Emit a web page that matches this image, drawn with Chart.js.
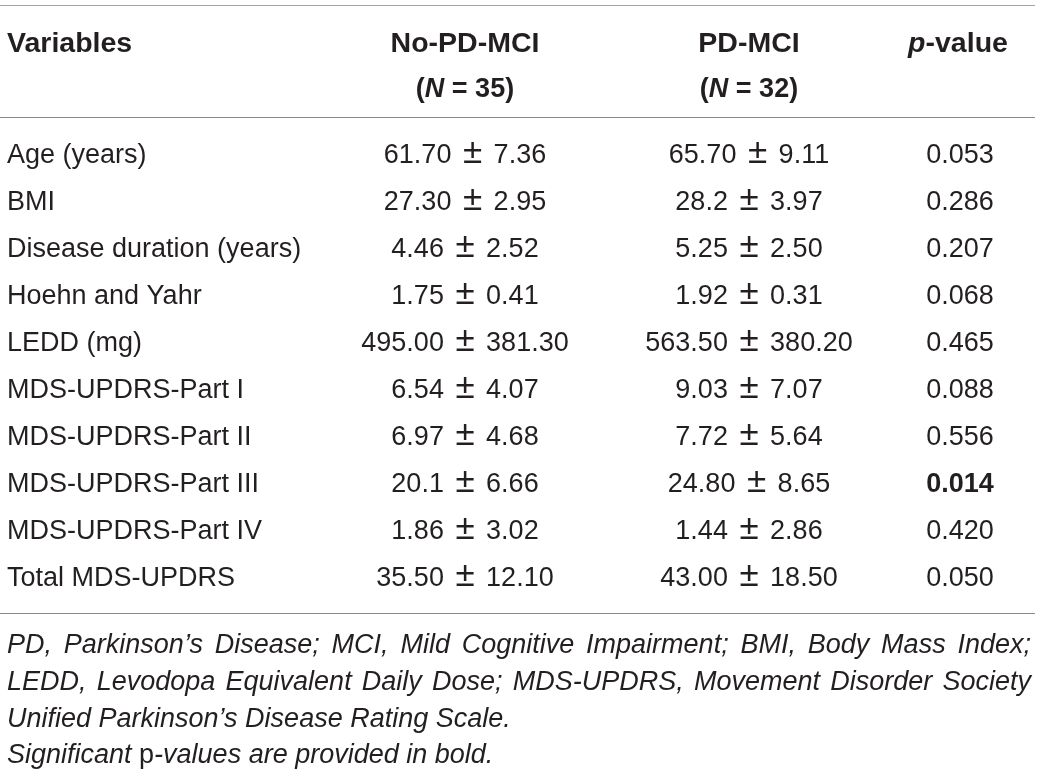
<!DOCTYPE html>
<html>
<head>
<meta charset="utf-8">
<script src="https://cdn.jsdelivr.net/npm/chart.js@4.4.1/dist/chart.umd.min.js"></script>
<style>
    html, body { margin: 0; padding: 0; background: #fff; }
    #wrap { width: 1041px; height: 774px; }
</style>
</head>
<body>
<div id="wrap"><canvas id="table" width="1041" height="774"></canvas></div>
<script>
// table values
const VARIABLES = [
    "Age (years)",
    "BMI",
    "Disease duration (years)",
    "Hoehn and Yahr",
    "LEDD (mg)",
    "MDS-UPDRS-Part I",
    "MDS-UPDRS-Part II",
    "MDS-UPDRS-Part III",
    "MDS-UPDRS-Part IV",
    "Total MDS-UPDRS"
]
const GROUPS = ["No-PD-MCI", "PD-MCI"]
const GROUP_N = [35, 32]
const NO_PD_MCI_MEAN = ["61.70", "27.30", "4.46", "1.75", "495.00", "6.54", "6.97", "20.1", "1.86", "35.50"]
const NO_PD_MCI_SD = ["7.36", "2.95", "2.52", "0.41", "381.30", "4.07", "4.68", "6.66", "3.02", "12.10"]
const PD_MCI_MEAN = ["65.70", "28.2", "5.25", "1.92", "563.50", "9.03", "7.72", "24.80", "1.44", "43.00"]
const PD_MCI_SD = ["9.11", "3.97", "2.50", "0.31", "380.20", "7.07", "5.64", "8.65", "2.86", "18.50"]
const P_VALUES = [0.053, 0.286, 0.207, 0.068, 0.465, 0.088, 0.556, 0.014, 0.420, 0.050]
const ALPHA = 0.05

const FOOTNOTE_LINES = [
    "PD, Parkinson’s Disease; MCI, Mild Cognitive Impairment; BMI, Body Mass Index;",
    "LEDD, Levodopa Equivalent Daily Dose; MDS-UPDRS, Movement Disorder Society",
    "Unified Parkinson’s Disease Rating Scale."
]
const FOOTNOTE_SIGNIF = ["Significant ", "p", "-values are provided in bold."]

// layout
const W = 1041, H = 774
const TEXT_LEFT = 7
const TEXT_RIGHT = 1031
const RULE_RIGHT = 1035
const COLUMN_X = [465, 749, 960]
const RULES_Y = [5.5, 117.5, 613.5]
const ROW_TOP = 129.5, ROW_BOTTOM = 599.5
const HEAD_BASE = [52, 97]
const NOTE_BASE = [653, 690, 726.5, 763]
const PM_PAD = 4

const INK = "#231f20"
const FAMILY = "'Liberation Sans', Arial, sans-serif"
const SIZE = 27
const NOTE_SIZE = 27
const font = (style, size) => `${style} ${size}px ${FAMILY}`
const F_BODY = font("normal", SIZE)
const F_BOLD = font("bold", SIZE)
const F_HEAD = font("bold", 28.5)
const F_HEAD_IT = font("italic bold", 28.5)
const F_BOLD_IT = font("italic bold", SIZE)
const F_PM = font("normal", 35)
const F_NOTE = font("italic", NOTE_SIZE)
const F_NOTE_UP = font("normal", NOTE_SIZE)
const CAP_HALF = SIZE * 0.716 / 2

function runsWidth(ctx, runs) {
    let w = 0
    for (const r of runs) {
        ctx.font = r.font
        w += ctx.measureText(r.text).width + (r.pad || 0) * 2
    }
    return w
}

function drawRuns(ctx, runs, x, y, align = "left") {
    const w = runsWidth(ctx, runs)
    let cx = align === "center" ? x - w / 2 : align === "right" ? x - w : x
    ctx.textAlign = "left"
    ctx.textBaseline = "alphabetic"
    for (const r of runs) {
        ctx.font = r.font
        cx += r.pad || 0
        ctx.fillText(r.text, cx, y)
        cx += ctx.measureText(r.text).width + (r.pad || 0)
    }
}

function drawJustified(ctx, text, x, right, y) {
    const words = text.split(" ")
    ctx.font = F_NOTE
    const widths = words.map(w => ctx.measureText(w).width)
    const total = widths.reduce((a, b) => a + b, 0)
    const gap = (right - x - total) / (words.length - 1)
    let cx = x
    ctx.textAlign = "left"
    ctx.textBaseline = "alphabetic"
    words.forEach((w, i) => {
        ctx.fillText(w, cx, y)
        cx += widths[i] + gap
    })
}

const cellRuns = (mean, sd) => [
    {text: mean, font: F_BODY},
    {text: " ", font: F_BODY},
    {text: "±", font: F_PM, pad: PM_PAD},
    {text: " ", font: F_BODY},
    {text: sd, font: F_BODY}
]

const tablePlugin = {
    id: "tableText",
    beforeDraw(chart) {
        const ctx = chart.ctx
        ctx.save()
        ctx.fillStyle = "#fff"
        ctx.fillRect(0, 0, chart.width, chart.height)
        ctx.restore()
    },
    afterDatasetsDraw(chart) {
        const ctx = chart.ctx
        ctx.save()

        // rules
        ctx.lineWidth = 1.2
        RULES_Y.forEach((y, i) => {
            ctx.strokeStyle = i === 0 ? "#a3a3a3" : "#8a8a8a"
            ctx.beginPath()
            ctx.moveTo(0, y)
            ctx.lineTo(RULE_RIGHT, y)
            ctx.stroke()
        })

        ctx.fillStyle = INK

        // header
        drawRuns(ctx, [{text: "Variables", font: F_HEAD}], TEXT_LEFT, HEAD_BASE[0])
        GROUPS.forEach((g, i) => {
            drawRuns(ctx, [{text: g, font: F_HEAD}], COLUMN_X[i], HEAD_BASE[0], "center")
            drawRuns(ctx, [
                {text: "(", font: F_BOLD},
                {text: "N", font: F_BOLD_IT},
                {text: ` = ${GROUP_N[i]})`, font: F_BOLD}
            ], COLUMN_X[i], HEAD_BASE[1], "center")
        })
        drawRuns(ctx, [
            {text: "p", font: F_HEAD_IT},
            {text: "-value", font: F_HEAD}
        ], COLUMN_X[2] - 2, HEAD_BASE[0], "center")

        // body cells, placed on the elements computed by the scales
        chart.data.datasets.forEach((ds, di) => {
            const meta = chart.getDatasetMeta(di)
            meta.data.forEach((el, j) => {
                const y = el.y + CAP_HALF
                if (di === 0) {
                    drawRuns(ctx, [{text: VARIABLES[j], font: F_BODY}], TEXT_LEFT, y)
                }
                if (ds.kind === "pvalue") {
                    const p = ds.values[j]
                    drawRuns(ctx, [{text: p.toFixed(3), font: p < ALPHA ? F_BOLD : F_BODY}], el.x, y, "center")
                } else {
                    drawRuns(ctx, cellRuns(ds.means[j], ds.sds[j]), el.x, y, "center")
                }
            })
        })

        // footnotes
        drawJustified(ctx, FOOTNOTE_LINES[0], TEXT_LEFT, TEXT_RIGHT, NOTE_BASE[0])
        drawJustified(ctx, FOOTNOTE_LINES[1], TEXT_LEFT, TEXT_RIGHT, NOTE_BASE[1])
        drawRuns(ctx, [{text: FOOTNOTE_LINES[2], font: F_NOTE}], TEXT_LEFT, NOTE_BASE[2])
        drawRuns(ctx, [
            {text: FOOTNOTE_SIGNIF[0], font: F_NOTE},
            {text: FOOTNOTE_SIGNIF[1], font: F_NOTE_UP},
            {text: FOOTNOTE_SIGNIF[2], font: F_NOTE}
        ], TEXT_LEFT, NOTE_BASE[3])

        ctx.restore()
    }
}

const column = (col) => VARIABLES.map(v => ({x: COLUMN_X[col], y: v}))

new Chart(document.getElementById("table"), {
    type: "scatter",
    data: {
        datasets: [
            {label: GROUPS[0], data: column(0), means: NO_PD_MCI_MEAN, sds: NO_PD_MCI_SD},
            {label: GROUPS[1], data: column(1), means: PD_MCI_MEAN, sds: PD_MCI_SD},
            {label: "p-value", data: column(2), kind: "pvalue", values: P_VALUES}
        ]
    },
    options: {
        responsive: false,
        animation: false,
        devicePixelRatio: 1,
        events: [],
        layout: {
            padding: {left: 0, right: 0, top: ROW_TOP, bottom: H - ROW_BOTTOM}
        },
        elements: {
            point: {radius: 0, hoverRadius: 0}
        },
        plugins: {
            legend: {display: false},
            tooltip: {enabled: false}
        },
        scales: {
            x: {type: "linear", min: 0, max: W, display: false},
            y: {type: "category", labels: VARIABLES, offset: true, display: false}
        }
    },
    plugins: [tablePlugin]
})
</script>
</body>
</html>
